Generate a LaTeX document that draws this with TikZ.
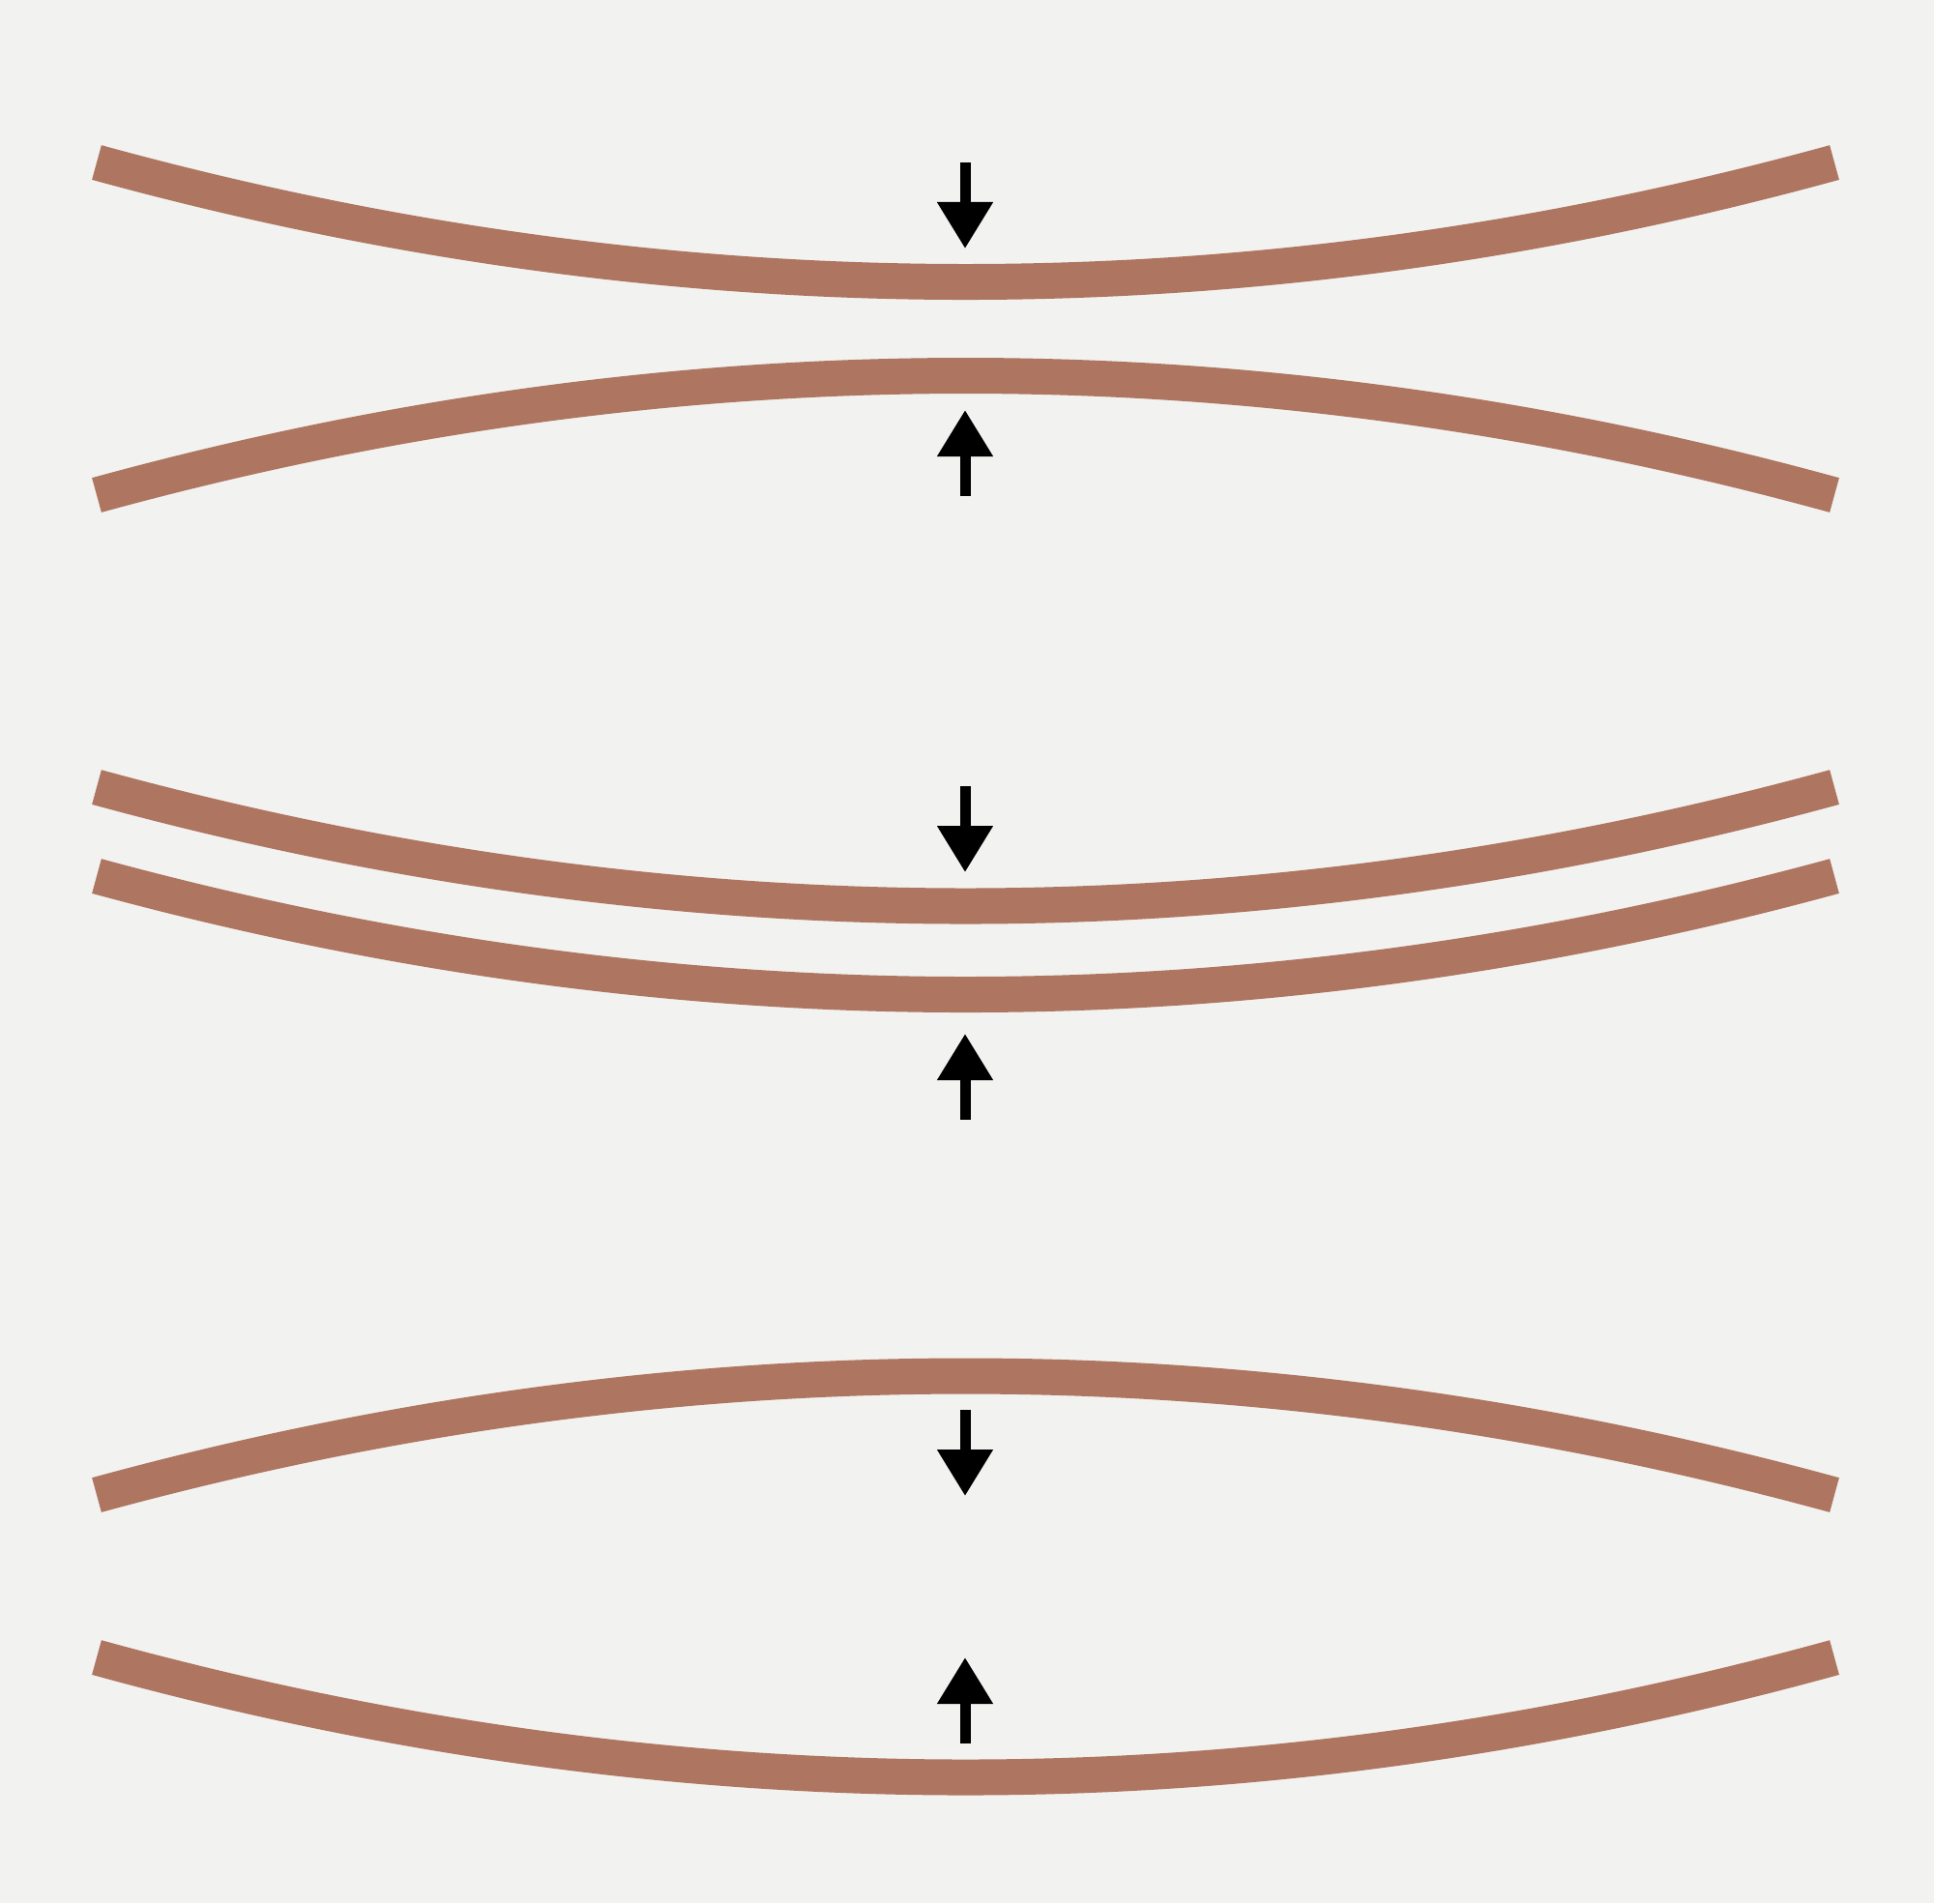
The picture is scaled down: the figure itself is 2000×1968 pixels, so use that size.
\documentclass[tikz,border=0pt]{standalone}
\usetikzlibrary{arrows.meta,calc}
\definecolor{plateBrown}{RGB}{174,117,96}
\definecolor{paperGrey}{RGB}{242,242,240}
\begin{document}
\begin{tikzpicture}
[x=0.01cm, y=-0.01cm,
  plateDecorate/.style={draw=plateBrown, line width=0.37cm},
  forceDecorate/.style={-{Triangle[width=0.55cm,length=0.48cm]}, line width=0.11cm, black}]
\useasboundingbox (0,0) rectangle (2000,1968);
\fill[paperGrey] (0,0) rectangle (2000,1968);
%% plates
\foreach \platename/\yend/\yctrl in {
  p1/168/415, p2/512/265, p3/814/1060, p4/906/1151, p5/1546/1300, p6/1714/1962}
{
  \coordinate (\platename-w) at (100,\yend);
  \coordinate (\platename-c) at (998.5,\yctrl);
  \coordinate (\platename-e) at (1897,\yend);
  \draw[plateDecorate] (\platename-w)
    .. controls ($(\platename-w)!2/3!(\platename-c)$) and ($(\platename-e)!2/3!(\platename-c)$)
    .. (\platename-e);
}
%% forces
\foreach \forcename/\ystart/\ytip in {
  f1/168/257, f2/513/424, f3/813/902, f4/1158/1069, f5/1458/1547, f6/1803/1714}
{
  \coordinate (\forcename-s) at (998,\ystart);
  \coordinate (\forcename-t) at (998,\ytip);
  \draw[forceDecorate] (\forcename-s) -- (\forcename-t);
}
\end{tikzpicture}
\end{document}
